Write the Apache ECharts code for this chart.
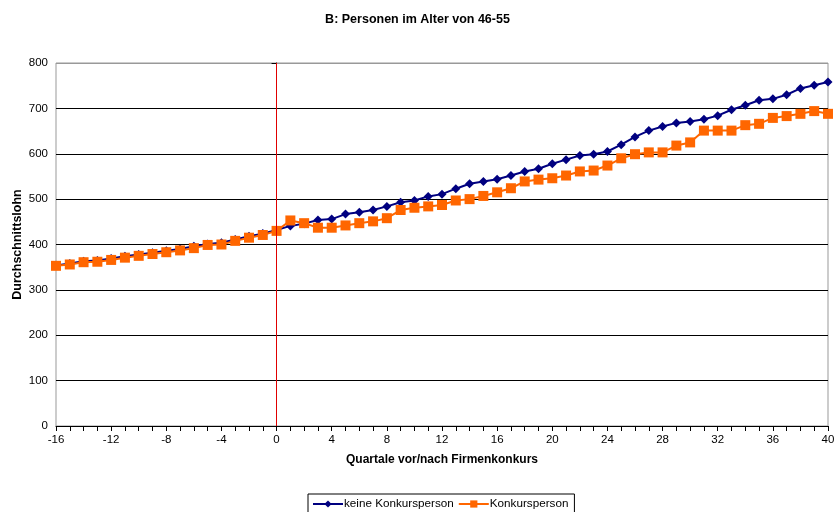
<!DOCTYPE html>
<html><head><meta charset="utf-8">
<script src="https://cdn.jsdelivr.net/npm/echarts@6/dist/echarts.min.js"></script>
<style>html,body{margin:0;padding:0;background:#fff}#c{width:835px;height:512px}</style>
</head><body><div id="c"></div>
<script>
const quarters = [];
for (let q = -16; q <= 40; q++) quarters.push(q);
const keineKonkurs = [354,358,363,365,369,374,378,382,386,390,396,401,404,411,418,424,432,
  441,446,454,456,467,471,476,484,493,497,506,511,523,534,539,544,552,561,567,578,587,596,599,605,
  620,637,651,660,668,671,676,684,697,707,718,721,730,744,751,758];
const konkurs = [353,356,361,362,366,371,375,379,383,387,392,399,400,408,415,421,430,
  453,447,437,437,442,447,451,458,476,481,484,487,497,500,507,515,524,539,543,546,552,561,563,574,
  590,599,603,603,618,625,651,651,651,663,666,679,683,688,694,688];
const seriesNames = ['keine Konkursperson','Konkursperson'];
const title = 'B: Personen im Alter von 46-55';
const xName = 'Quartale vor/nach Firmenkonkurs';
const yName = 'Durchschnittslohn';

const font = 'Liberation Sans, Arial, sans-serif';
const chart = echarts.init(document.getElementById('c'));
chart.setOption({
  animation: false,
  textStyle: {fontFamily: font},
  title: {text: title, left: 'center', top: 8,
    textStyle: {fontSize: 12.5, fontWeight: 'bold', color: '#000', fontFamily: font}},
  grid: {left: 56, right: 7, top: 63, bottom: 86, show: true, borderColor: '#999', borderWidth: 1,
    containLabel: false, outerBoundsMode: 'none'},
  legend: {
    bottom: -6, left: 308, itemGap: 4, itemWidth: 30, itemHeight: 9,
    borderColor: '#000', borderWidth: 1, borderRadius: 0, padding: [4, 6, 8, 4],
    textStyle: {fontSize: 11.7, color: '#000', fontFamily: font, padding: [0, 0, 0, -4]},
    data: seriesNames
  },
  xAxis: {
    type: 'value', min: -16, max: 40, interval: 4,
    name: xName, nameLocation: 'middle', nameGap: 28, nameMoveOverlap: false,
    nameTextStyle: {fontSize: 12, fontWeight: 'bold', color: '#000', fontFamily: font},
    axisLine: {lineStyle: {color: '#000', width: 1}},
    axisTick: {show: true, length: 5, lineStyle: {color: '#000'}},
    minorTick: {show: true, splitNumber: 4, length: 5, lineStyle: {color: '#000'}},
    axisLabel: {fontSize: 11.5, color: '#000', margin: 8},
    splitLine: {show: false}
  },
  yAxis: {
    type: 'value', min: 0, max: 800, interval: 100,
    name: yName, nameLocation: 'middle', nameGap: 32, nameRotate: 90, nameMoveOverlap: false,
    nameTextStyle: {fontSize: 12.5, fontWeight: 'bold', color: '#000', fontFamily: font},
    axisLine: {show: true, lineStyle: {color: '#000', width: 1}},
    axisTick: {show: true, length: 5, lineStyle: {color: '#000'}},
    axisLabel: {fontSize: 11.5, color: '#000', margin: 8},
    splitLine: {show: true, lineStyle: {color: ['#000','#000','#000','#000','#000','#000','#000','#000','#999'], width: 1}}
  },
  series: [
    {
      name: seriesNames[0], type: 'line',
      data: quarters.map((q, i) => [q, keineKonkurs[i]]),
      symbol: 'diamond', symbolSize: 9, showAllSymbol: true,
      itemStyle: {color: '#000080'},
      lineStyle: {color: '#000080', width: 2},
      z: 3,
      markLine: {
        silent: true, symbol: 'none', label: {show: false},
        lineStyle: {color: '#e00000', width: 1, type: 'solid'},
        data: [{xAxis: 0}]
      }
    },
    {
      name: seriesNames[1], type: 'line',
      data: quarters.map((q, i) => [q, konkurs[i]]),
      symbol: 'rect', symbolSize: 10, showAllSymbol: true,
      itemStyle: {color: '#ff6600'},
      lineStyle: {color: '#ff6600', width: 2},
      z: 4
    }
  ]
});
</script></body></html>
